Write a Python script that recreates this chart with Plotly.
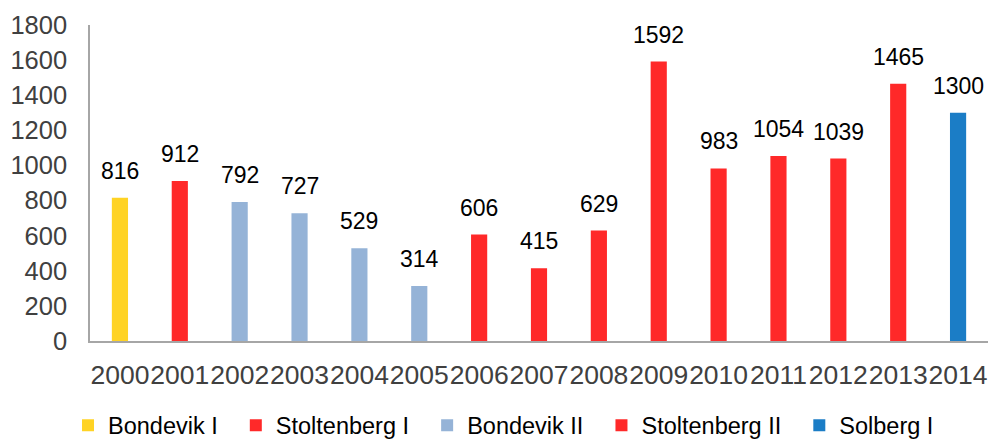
import plotly.graph_objects as go

years = [str(y) for y in range(2000, 2015)]
values = [816, 912, 792, 727, 529, 314, 606, 415, 629, 1592, 983, 1054, 1039, 1465, 1300]
governments = ["Bondevik I", "Stoltenberg I", "Bondevik II", "Bondevik II", "Bondevik II",
               "Bondevik II", "Stoltenberg II", "Stoltenberg II", "Stoltenberg II",
               "Stoltenberg II", "Stoltenberg II", "Stoltenberg II", "Stoltenberg II",
               "Stoltenberg II", "Solberg I"]
gov_order = ["Bondevik I", "Stoltenberg I", "Bondevik II", "Stoltenberg II", "Solberg I"]
gov_colors = {"Bondevik I": "#FFD324", "Stoltenberg I": "#FF2929",
              "Bondevik II": "#95B3D7", "Stoltenberg II": "#FF2929",
              "Solberg I": "#1B7DC6"}
y_ticks = list(range(0, 1801, 200))

fig = go.Figure()
for g in gov_order:
    xs = [y for y, gg in zip(years, governments) if gg == g]
    vs = [v for v, gg in zip(values, governments) if gg == g]
    fig.add_trace(go.Bar(x=xs, y=vs, name=g + "\u00a0\u00a0", marker_color=gov_colors[g],
                         marker_line_width=0, width=0.27))

for i, (y, v) in enumerate(zip(years, values)):
    fig.add_annotation(x=years.index(y), y=v, text=str(v), showarrow=False, yanchor="bottom",
                       yshift=12, font=dict(family="Liberation Sans", size=23, color="#000000"))

fig.update_layout(
    width=990, height=439,
    margin=dict(l=90, r=2, t=25, b=98),
    paper_bgcolor="white", plot_bgcolor="white",
    barmode="overlay",
    showlegend=True,
    legend=dict(orientation="h", xref="container", yref="container",
                x=0.0687, y=0.031, xanchor="left", yanchor="middle",
                font=dict(family="Liberation Sans", size=23.5, color="#000000"),
                traceorder="normal"),
    xaxis=dict(type="category", categoryorder="array", categoryarray=years,
               range=[-0.5, 14.5], showgrid=False, showline=True, linecolor="#A6A6A6",
               linewidth=1.5, ticks="", ticklabelstandoff=9, tickangle=0,
               automargin=False,
               tickfont=dict(family="Liberation Sans", size=26.5, color="#404040")),
    yaxis=dict(range=[0, 1800], tickvals=y_ticks, showgrid=False, showline=True,
               linecolor="#A6A6A6", linewidth=1.5, ticks="", zeroline=False,
               ticklabelstandoff=16, automargin=False,
               tickfont=dict(family="Liberation Sans", size=25.5, color="#404040")),
)

fig.write_html("out.html", config={"displayModeBar": False},
               post_script="document.body.style.margin='0';document.body.style.overflow='hidden';")
